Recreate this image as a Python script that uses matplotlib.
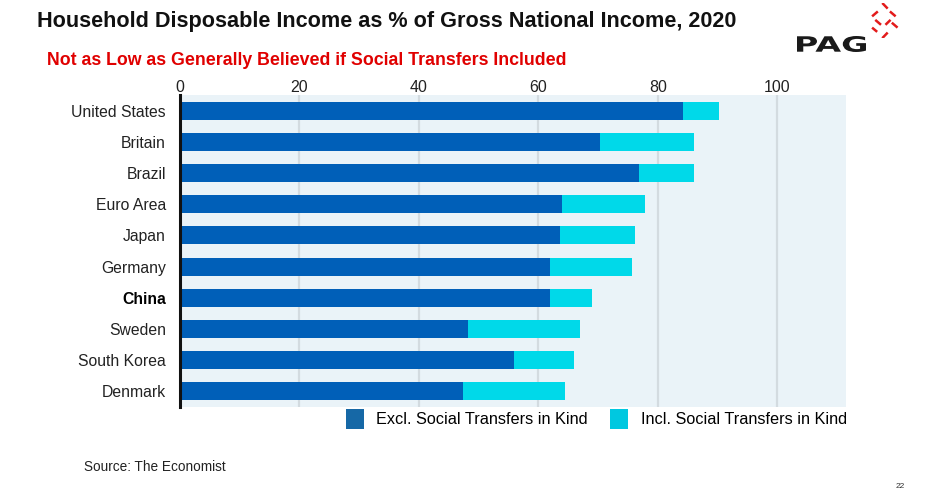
import numpy as np
import matplotlib
matplotlib.use('Agg')
import matplotlib.pyplot as plt
from matplotlib.patches import Patch, PathPatch
from matplotlib.textpath import TextPath
from matplotlib.font_manager import FontProperties
from matplotlib.transforms import Affine2D

plt.rcParams['font.family'] = ['Liberation Sans', 'DejaVu Sans']

# data
countries = ['United States', 'Britain', 'Brazil', 'Euro Area', 'Japan',
             'Germany', 'China', 'Sweden', 'South Korea', 'Denmark']
excl = [84.3, 70.4, 76.8, 63.9, 63.7, 62.0, 62.0, 48.3, 55.9, 47.3]
incl = [90.3, 86.1, 86.0, 77.9, 76.1, 75.6, 68.9, 66.9, 65.9, 64.4]
xticks = [0, 20, 40, 60, 80, 100]

DARK = '#005fb8'
LIGHT = '#00d9e9'

fig = plt.figure(figsize=(9.36, 4.96), dpi=100)
ax = fig.add_axes([0.1923, 0.1794, 0.7115, 0.6291])
ax.set_facecolor('#eaf3f8')

y = np.arange(len(countries))
ax.barh(y, incl, height=0.58, color=LIGHT, zorder=2)
ax.barh(y, excl, height=0.58, color=DARK, zorder=3)

ax.set_xlim(0, 111.5)
ax.set_ylim(9.5, -0.5)
ax.set_xticks(xticks)
ax.xaxis.tick_top()
ax.tick_params(axis='x', length=0, pad=0, labelsize=11.5, labelcolor='#222222')
ax.set_yticks(y)
ax.set_yticklabels(countries)
ax.tick_params(axis='y', length=0, pad=10, labelsize=11.3, labelcolor='#222222')
for lab in ax.get_yticklabels():
    if lab.get_text() == 'China':
        lab.set_fontweight('bold')
        lab.set_color('black')
ax.grid(axis='x', color='#d3dbe0', linewidth=1.6, zorder=1)
for s in ['top', 'right', 'bottom']:
    ax.spines[s].set_visible(False)
ax.spines['left'].set_color('#111111')
ax.spines['left'].set_linewidth(2.2)
ax.spines['left'].set_zorder(5)

handles = [Patch(facecolor='#1668a6', label='Excl. Social Transfers in Kind'),
           Patch(facecolor='#00c8e0', label='Incl. Social Transfers in Kind')]
fig.legend(handles=handles, loc='center right', bbox_to_anchor=(0.9115, 0.156),
           ncol=2, frameon=False, fontsize=11.7, handlelength=1.1, handleheight=1.5,
           handletextpad=0.75, columnspacing=1.4, borderaxespad=0)

fig.text(0.0395, 0.956, 'Household Disposable Income as % of Gross National Income, 2020',
         fontsize=15.6, fontweight='bold', color='#111111', va='center', ha='left')
fig.text(0.050, 0.879, 'Not as Low as Generally Believed if Social Transfers Included',
         fontsize=12.8, fontweight='bold', color='#e00000', va='center', ha='left')
fig.text(0.0897, 0.058, 'Source: The Economist', fontsize=9.8, color='#222222',
         va='center', ha='left')
fig.text(0.962, 0.020, '22', fontsize=6, color='#333333', va='center', ha='center')

# PAG logo, stretched sideways
tp = TextPath((0, 0), 'PAG', size=1, prop=FontProperties(family='DejaVu Sans', weight='bold'))
ext = tp.get_extents()
sx = 69 / ext.width
sy = 16 / ext.height
tr = Affine2D().translate(-ext.x0, -ext.y0).scale(sx, sy).translate(797, 496 - 52)
fig.patches.append(PathPatch(tr.transform_path(tp), facecolor='#1a1a1a',
                             edgecolor='none', transform=None))
lax = fig.add_axes([0.929, 0.923, 0.034, 0.071])
lax.set_xlim(0, 1)
lax.set_ylim(0, 1)
lax.axis('off')
segs = [((0.40, 1.00), (0.57, 0.84)),
        ((0.08, 0.62), (0.26, 0.76)), ((0.64, 0.76), (0.82, 0.62)),
        ((0.18, 0.52), (0.36, 0.38)), ((0.50, 0.38), (0.66, 0.52)),
        ((0.70, 0.44), (0.88, 0.30)),
        ((0.08, 0.30), (0.24, 0.18)),
        ((0.40, 0.00), (0.57, 0.16))]
for (a, b) in segs:
    lax.plot([a[0], b[0]], [a[1], b[1]], color='#e31b1b', linewidth=1.8,
             solid_capstyle='butt')

fig.savefig('out.png', dpi=100)
